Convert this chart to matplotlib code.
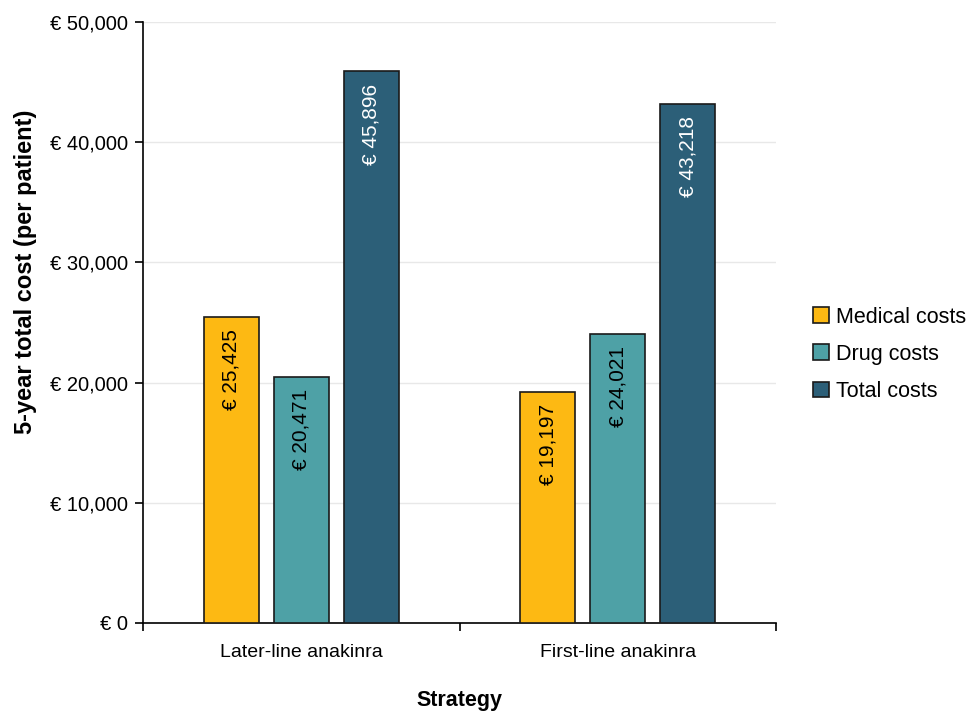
import matplotlib.pyplot as plt
import numpy as np

plt.rcParams["font.family"] = ["Liberation Sans", "DejaVu Sans"]

strategies = ["Later-line anakinra", "First-line anakinra"]
series = ["Medical costs", "Drug costs", "Total costs"]
medical = [25425, 19197]
drug = [20471, 24021]
total = [45896, 43218]
values = [medical, drug, total]
colors = ["#FDB913", "#4EA1A6", "#2C5F78"]
text_colors = ["black", "black", "white"]
yticks = [0, 10000, 20000, 30000, 40000, 50000]

fig = plt.figure(figsize=(9.71, 7.12), dpi=100)
ax = fig.add_axes([0.1473, 0.125, 0.652, 0.844])

centers = np.arange(len(strategies)) + 0.5
width = 0.174
step = 0.221

for i, (name, vals) in enumerate(zip(series, values)):
    x = centers + (i - 1) * step
    ax.bar(x, vals, width=width, color=colors[i], edgecolor="#1a1a1a",
           linewidth=1.2, label=name, zorder=3)
    for xi, v in zip(x, vals):
        ax.text(xi, v - 1000, f"€ {v:,}", rotation=90, ha="center", va="top",
                fontsize=15, color=text_colors[i], zorder=4)

ax.set_xlim(0, 2)
ax.set_ylim(0, 50000)
ax.set_yticks(yticks)
ax.set_yticklabels([f"€ {v:,}" for v in yticks], fontsize=14.5)
ax.set_xticks([0, 1, 2])
ax.set_xticklabels([])
ax.set_xticks(centers, minor=True)
ax.set_xticklabels(strategies, minor=True, fontsize=14)
ax.tick_params(axis="x", which="minor", length=0, pad=15)
ax.tick_params(axis="x", which="major", length=6, width=1.2)
ax.tick_params(axis="y", length=6, width=1.2, pad=5)

ax.grid(axis="y", color="#e8e8e8", linewidth=1, zorder=0)
for s in ["top", "right"]:
    ax.spines[s].set_visible(False)
for s in ["left", "bottom"]:
    ax.spines[s].set_linewidth(1.2)

ax.set_ylabel("5-year total cost (per patient)", fontsize=17, fontweight="bold",
              va="center")
ax.yaxis.set_label_coords(-0.186, 0.584)
ax.set_xlabel("Strategy", fontsize=15.5, fontweight="bold", va="top")
ax.xaxis.set_label_coords(0.5, -0.112)

ax.legend(loc="center left", bbox_to_anchor=(1.045, 0.447), frameon=False, fontsize=15.5,
          handlelength=0.75, handleheight=0.75, handletextpad=0.3, labelspacing=0.75,
          borderaxespad=0)

fig.savefig("out.png", dpi=100)
